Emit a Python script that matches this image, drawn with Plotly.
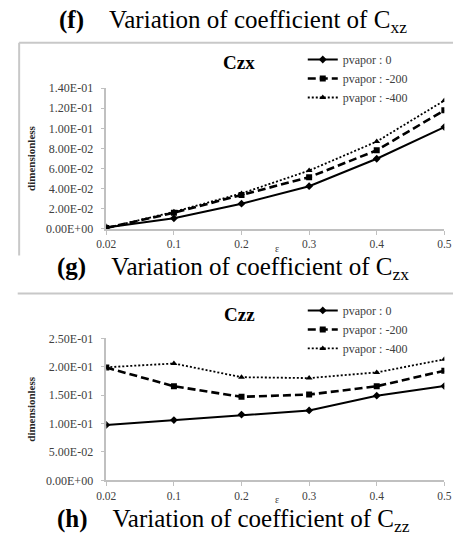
import plotly.graph_objects as go

# ---------------- data ----------------
eps_labels = ["0.02", "0.1", "0.2", "0.3", "0.4", "0.5"]
series_names = ["pvapor : 0", "pvapor : -200", "pvapor : -400"]

czx_p0 = [0.0015, 0.0105, 0.0251, 0.0425, 0.0698, 0.1013]
czx_p200 = [0.0010, 0.0160, 0.0338, 0.0514, 0.0782, 0.1180]
czx_p400 = [0.0008, 0.0170, 0.0353, 0.0580, 0.0869, 0.1277]

czz_p0 = [0.0975, 0.1060, 0.1158, 0.1230, 0.1490, 0.1660]
czz_p200 = [0.1985, 0.1656, 0.1470, 0.1510, 0.1656, 0.1930]
czz_p400 = [0.1990, 0.2057, 0.1816, 0.1800, 0.1900, 0.2130]

czx_tickvals = [0.0, 0.02, 0.04, 0.06, 0.08, 0.10, 0.12, 0.14]
czx_ticktext = ["0.00E+00", "2.00E-02", "4.00E-02", "6.00E-02",
                "8.00E-02", "1.00E-01", "1.20E-01", "1.40E-01"]
czz_tickvals = [0.0, 0.05, 0.10, 0.15, 0.20, 0.25]
czz_ticktext = ["0.00E+00", "5.00E-02", "1.00E-01", "1.50E-01",
                "2.00E-01", "2.50E-01"]

# ---------------- styling ----------------
W, H = 460, 549
SERIF = "Liberation Serif"
TICK_COLOR = "#404040"
AXIS_COLOR = "#c0c0c0"

styles = [
    dict(dash="solid", width=2, symbol="diamond", size=6),
    dict(dash="8px,4px", width=2.6, symbol="square", size=6),
    dict(dash="2px,2px", width=1.8, symbol="triangle-up", size=6),
]


def px_x(x):
    return x / W


def px_y(y):
    return (H - y) / H


fig = go.Figure()

for vals, name, st in zip([czx_p0, czx_p200, czx_p400], series_names, styles):
    fig.add_trace(go.Scatter(
        x=eps_labels, y=vals, name=name, mode="lines+markers",
        line=dict(color="black", width=st["width"], dash=st["dash"]),
        marker=dict(symbol=st["symbol"], size=st["size"], color="black"),
        xaxis="x", yaxis="y", legend="legend",
    ))

for vals, name, st in zip([czz_p0, czz_p200, czz_p400], series_names, styles):
    fig.add_trace(go.Scatter(
        x=eps_labels, y=vals, name=name, mode="lines+markers",
        line=dict(color="black", width=st["width"], dash=st["dash"]),
        marker=dict(symbol=st["symbol"], size=st["size"], color="black"),
        xaxis="x2", yaxis="y2", legend="legend2",
    ))

x_dom = [px_x(100), px_x(451)]
common_x = dict(
    type="category", range=[0, 5], showline=True, linecolor=AXIS_COLOR,
    linewidth=1.5, ticks="outside", ticklen=4, tickcolor=AXIS_COLOR,
    showgrid=False, zeroline=False,
    tickfont=dict(family=SERIF, size=11.5, color=TICK_COLOR),
    fixedrange=True,
)
common_y = dict(
    showline=True, linecolor=AXIS_COLOR, linewidth=1.5, ticks="outside",
    ticklen=4, tickcolor=AXIS_COLOR, showgrid=False, zeroline=False,
    tickfont=dict(family=SERIF, size=12, color=TICK_COLOR),
    ticklabelstandoff=5,
    title=dict(text="<b>dimensionless</b>",
               font=dict(family=SERIF, size=11, color="#262626"),
               standoff=8),
)

fig.update_layout(
    width=W, height=H, margin=dict(l=0, r=0, t=0, b=0),
    paper_bgcolor="white", plot_bgcolor="white",
    font=dict(family=SERIF, color="black"),
    xaxis=dict(domain=x_dom, anchor="y", **common_x),
    yaxis=dict(domain=[px_y(227.7), px_y(83.3)], anchor="x",
               range=[0, 0.14], tickvals=czx_tickvals, ticktext=czx_ticktext,
               **common_y),
    xaxis2=dict(domain=x_dom, anchor="y2", **common_x),
    yaxis2=dict(domain=[px_y(485.7), px_y(340)], anchor="x2",
                range=[0, 0.25], tickvals=czz_tickvals, ticktext=czz_ticktext,
                **common_y),
    legend=dict(x=px_x(304), y=px_y(39), xanchor="left", yanchor="top",
                bgcolor="rgba(0,0,0,0)",
                font=dict(family=SERIF, size=12, color=TICK_COLOR)),
    legend2=dict(x=px_x(304), y=px_y(296.5), xanchor="left", yanchor="top",
                 bgcolor="rgba(0,0,0,0)",
                 font=dict(family=SERIF, size=12, color=TICK_COLOR)),
    showlegend=True,
)

cap_font = dict(family=SERIF, size=25, color="black")
captions = [
    ("<b>(f)</b>\u2003Variation of coefficient of C<sub>xz</sub>", 15),
    ("<b>(g)</b>\u2003Variation of coefficient of C<sub>zx</sub>", 268),
    ("<b>(h)</b>\u2003Variation of coefficient of C<sub>zz</sub>", 527),
]
for text, yc in captions:
    fig.add_annotation(text=text, x=px_x(232), y=px_y(yc), xref="paper",
                       yref="paper", showarrow=False, font=cap_font,
                       xanchor="center", yanchor="middle")

for text, yc in [("<b>Czx</b>", 57), ("<b>Czz</b>", 315.5)]:
    fig.add_annotation(text=text, x=px_x(238), y=px_y(yc), xref="paper",
                       yref="paper", showarrow=False,
                       font=dict(family=SERIF, size=19, color="black"),
                       xanchor="center", yanchor="middle")

for yc in [248, 505]:
    fig.add_annotation(text="ε", x=px_x(277), y=px_y(yc), xref="paper",
                       yref="paper", showarrow=False,
                       font=dict(family=SERIF, size=10, color=TICK_COLOR),
                       xanchor="center", yanchor="middle")

# frame lines
frame = dict(color="#c8c8c8", width=2)
fig.add_shape(type="line", xref="paper", yref="paper",
              x0=px_x(9.5), x1=1, y0=px_y(36.7), y1=px_y(36.7), line=frame)
fig.add_shape(type="line", xref="paper", yref="paper",
              x0=px_x(9.5), x1=px_x(9.5), y0=px_y(36.7), y1=px_y(255),
              line=frame)
fig.add_shape(type="line", xref="paper", yref="paper",
              x0=px_x(8), x1=1, y0=px_y(294), y1=px_y(294), line=frame)

fig.write_html("out.html",
               config={"displayModeBar": False},
               post_script="document.body.style.margin='0';"
                           "document.body.style.overflow='hidden';")
